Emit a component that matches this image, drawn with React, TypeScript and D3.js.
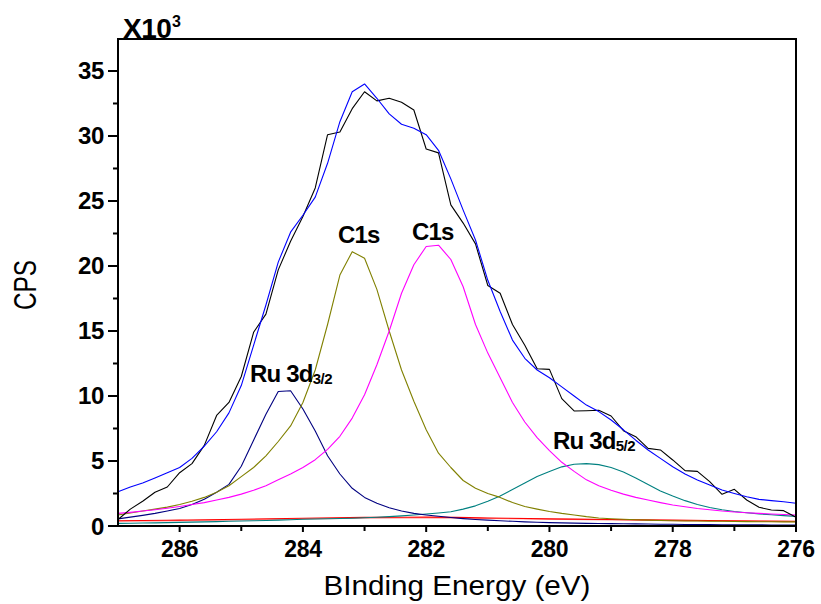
import React from "react";
import * as d3 from "d3";

const energy = [
  287.0, 286.8, 286.6, 286.4, 286.2, 286.0, 285.8, 285.6, 285.4, 285.2,
  285.0, 284.8, 284.6, 284.4, 284.2, 284.0, 283.8, 283.6, 283.4, 283.2,
  283.0, 282.8, 282.6, 282.4, 282.2, 282.0, 281.8, 281.6, 281.4, 281.2,
  281.0, 280.8, 280.6, 280.4, 280.2, 280.0, 279.8, 279.6, 279.4, 279.2,
  279.0, 278.8, 278.6, 278.4, 278.2, 278.0, 277.8, 277.6, 277.4, 277.2,
  277.0, 276.8, 276.6, 276.4, 276.2, 276.0,
];

const rawCps = [
  0.5, 1.3, 1.9, 2.6, 3.0, 4.1, 4.8, 6.2, 8.5, 9.5,
  11.5, 14.9, 16.3, 19.7, 21.9, 23.8, 26.0, 30.1, 30.3, 32.1,
  33.4, 32.7, 32.9, 32.6, 32.0, 29.0, 28.7, 24.7, 23.3, 21.7,
  18.5, 17.9, 15.5, 13.9, 12.1, 12.05, 9.8, 8.85, 8.87, 8.9,
  8.46, 7.33, 6.87, 5.97, 5.85, 5.08, 4.26, 4.2, 3.41, 2.44,
  2.82, 2.0, 1.44, 1.23, 1.18, 0.67,
];

const envelope = [
  2.64, 3.0, 3.3, 3.7, 4.1, 4.5, 5.2, 6.15, 7.25, 8.7,
  10.8, 13.9, 17.0, 20.3, 22.6, 23.9, 25.3, 27.9, 31.1, 33.4,
  34.0, 32.9, 31.7, 30.9, 30.6, 30.1, 28.9, 26.7, 24.3, 22.0,
  18.9, 16.5, 14.3, 12.9, 12.0, 11.4, 10.7, 10.0, 9.3, 8.8,
  8.15, 7.4, 6.6, 5.85, 5.2, 4.56, 4.0, 3.54, 3.15, 2.77,
  2.5, 2.25, 2.05, 1.95, 1.87, 1.75,
];

const ru3d32 = [
  0.55, 0.68, 0.82, 0.97, 1.15, 1.35, 1.65, 2.05, 2.6, 3.2,
  4.6, 6.6, 8.6, 10.35, 10.4, 9.0, 7.3, 5.4, 4.0, 2.9,
  2.2, 1.75, 1.4, 1.15, 0.97, 0.85, 0.75, 0.65, 0.57, 0.5,
  0.45, 0.4, 0.36, 0.32, 0.29, 0.26, 0.24, 0.22, 0.2, 0.19,
  0.18, 0.17, 0.16, 0.15, 0.14, 0.13, 0.12, 0.12, 0.11, 0.1,
  0.1, 0.09, 0.09, 0.08, 0.08, 0.08,
];

const c1sA = [
  0.85, 1.0, 1.15, 1.3, 1.45, 1.65, 1.9, 2.2, 2.6, 3.1,
  3.8, 4.5, 5.4, 6.5, 7.7, 9.5, 12.0, 15.5, 19.3, 21.1,
  20.6, 18.2, 15.0, 12.0, 9.6, 7.4, 5.6, 4.5, 3.5, 2.9,
  2.5, 2.2, 1.8, 1.5, 1.3, 1.12, 0.97, 0.85, 0.72, 0.62,
  0.56, 0.52, 0.48, 0.45, 0.42, 0.4, 0.39, 0.38, 0.37, 0.36,
  0.35, 0.34, 0.33, 0.33, 0.32, 0.32,
];

const c1sB = [
  0.97, 1.05, 1.15, 1.25, 1.37, 1.5, 1.65, 1.8, 2.0, 2.2,
  2.45, 2.75, 3.1, 3.55, 4.0, 4.5, 5.1, 5.9, 6.9, 8.3,
  10.1, 12.4, 15.0, 17.9, 20.1, 21.5, 21.6, 20.5, 18.4, 15.5,
  13.3, 11.4, 9.5, 8.0, 6.8, 5.8, 4.9, 4.2, 3.55, 3.1,
  2.75, 2.45, 2.2, 2.0, 1.8, 1.62, 1.48, 1.35, 1.25, 1.15,
  1.08, 1.02, 0.97, 0.92, 0.88, 0.85,
];

const ru3d52 = [
  0.2, 0.21, 0.23, 0.24, 0.26, 0.28, 0.3, 0.32, 0.34, 0.36,
  0.38, 0.4, 0.42, 0.45, 0.48, 0.52, 0.54, 0.56, 0.58, 0.6,
  0.63, 0.67, 0.72, 0.78, 0.85, 0.92, 1.0, 1.1, 1.3, 1.55,
  1.9, 2.3, 2.8, 3.3, 3.8, 4.2, 4.55, 4.75, 4.8, 4.72,
  4.5, 4.15, 3.7, 3.2, 2.7, 2.3, 1.95, 1.65, 1.42, 1.25,
  1.12, 1.02, 0.93, 0.86, 0.8, 0.74,
];

const bgEnergy = [287, 286, 285, 284, 283, 282, 281, 280, 279, 278, 277, 276];
const background = [0.4, 0.45, 0.52, 0.6, 0.66, 0.68, 0.62, 0.55, 0.5, 0.45, 0.4, 0.36];
const background2 = [0.37, 0.41, 0.47, 0.54, 0.6, 0.62, 0.58, 0.52, 0.47, 0.42, 0.38, 0.34];

const xMajorTicks = [286, 284, 282, 280, 278, 276];
const xMinorTicks = [285, 283, 281, 279, 277];
const yMajorTicks = [0, 5, 10, 15, 20, 25, 30, 35];
const yMinorTicks = [2.5, 7.5, 12.5, 17.5, 22.5, 27.5, 32.5];

const FONT = "'Liberation Sans', Arial, Helvetica, sans-serif";

export default function App() {
  const x = d3.scaleLinear().domain([287, 276]).range([118, 796]);
  const y = d3.scaleLinear().domain([0, 37.46]).range([526, 39]);

  const line = d3
    .line<number>()
    .x((_, i) => x(energy[i]))
    .y((d) => y(d));
  const bgLine = d3
    .line<number>()
    .x((_, i) => x(bgEnergy[i]))
    .y((d) => y(d))
    .curve(d3.curveMonotoneX);

  const series: { data: number[]; color: string }[] = [
    { data: ru3d52, color: "#008080" },
    { data: ru3d32, color: "#000080" },
    { data: c1sA, color: "#808000" },
    { data: c1sB, color: "#ff00ff" },
    { data: rawCps, color: "#000000" },
    { data: envelope, color: "#0000ff" },
  ];

  const x0 = x(287);
  const x1 = x(276);
  const yb = y(0);
  const yt = 39;

  return (
    <svg
      width={821}
      height={604}
      style={{ position: "absolute", left: 0, top: 0, background: "#fff" }}
      fontFamily={FONT}
    >
      <rect x={0} y={0} width={821} height={604} fill="#fff" />

      {/* baseline lines */}
      <path d={bgLine(background2) || ""} fill="none" stroke="#ff9090" strokeWidth={1.2} />
      <path d={bgLine(background) || ""} fill="none" stroke="#ff0000" strokeWidth={1.1} />

      {series.map((s, k) => (
        <path
          key={k}
          d={line(s.data) || ""}
          fill="none"
          stroke={s.color}
          strokeWidth={1.1}
          strokeLinejoin="round"
        />
      ))}

      {/* frame */}
      <g stroke="#000" strokeWidth={2} fill="none">
        <line x1={x0} y1={yt} x2={x0} y2={yb + 1} />
        <line x1={x0 - 1} y1={yb} x2={x1 + 1} y2={yb} />
        <line x1={x0 - 1} y1={yt} x2={x1 + 1} y2={yt} />
        <line x1={x1} y1={yt} x2={x1} y2={yb + 1} />
      </g>

      {/* ticks */}
      <g stroke="#000" strokeWidth={2}>
        {yMajorTicks.map((t) => (
          <line key={"ym" + t} x1={x0 - 10} x2={x0} y1={y(t)} y2={y(t)} />
        ))}
        {yMinorTicks.map((t) => (
          <line key={"yn" + t} x1={x0 - 5} x2={x0} y1={y(t)} y2={y(t)} />
        ))}
        {xMajorTicks.map((t) => (
          <line key={"xm" + t} x1={x(t)} x2={x(t)} y1={yb} y2={yb + 6} />
        ))}
        {xMinorTicks.map((t) => (
          <line key={"xn" + t} x1={x(t)} x2={x(t)} y1={yb} y2={yb + 5} />
        ))}
      </g>

      {/* tick labels */}
      <g fontWeight="bold" fontSize={24} fill="#000" letterSpacing={-0.3}>
        {yMajorTicks.map((t) => (
          <text key={"yl" + t} x={104} y={y(t) + 8.5} textAnchor="end">
            {String(t)}
          </text>
        ))}
      </g>
      <g fontWeight="bold" fontSize={23} fill="#000" letterSpacing={-0.3}>
        {xMajorTicks.map((t) => (
          <text key={"xl" + t} x={x(t)} y={557} textAnchor="middle">
            {String(t)}
          </text>
        ))}
      </g>

      {/* multiplier */}
      <text x={123} y={38} fontWeight="bold" fontSize={28} letterSpacing={-0.5}>
        X10
      </text>
      <text x={172} y={27} fontWeight="bold" fontSize={16}>
        3
      </text>

      {/* axis titles */}
      <text
        x={457}
        y={595}
        fontSize={28}
        textAnchor="middle"
        textLength={267}
        lengthAdjust="spacingAndGlyphs"
      >
        BInding Energy (eV)
      </text>
      <text
        transform="translate(36,285) rotate(-90)"
        fontSize={31}
        textAnchor="middle"
        textLength={50}
        lengthAdjust="spacingAndGlyphs"
      >
        CPS
      </text>

      {/* peak labels */}
      <g fontWeight="bold" fill="#000">
        <text x={338} y={243} fontSize={24} letterSpacing={-0.8}>
          C1s
        </text>
        <text x={412} y={240} fontSize={24} letterSpacing={-0.8}>
          C1s
        </text>
        <text x={250} y={382} fontSize={24} letterSpacing={-0.8}>
          Ru 3d
          <tspan fontSize={15} dy={2} letterSpacing={-0.5}>
            3/2
          </tspan>
        </text>
        <text x={553} y={449} fontSize={24} letterSpacing={-0.8}>
          Ru 3d
          <tspan fontSize={15} dy={2} letterSpacing={-0.5}>
            5/2
          </tspan>
        </text>
      </g>
    </svg>
  );
}
